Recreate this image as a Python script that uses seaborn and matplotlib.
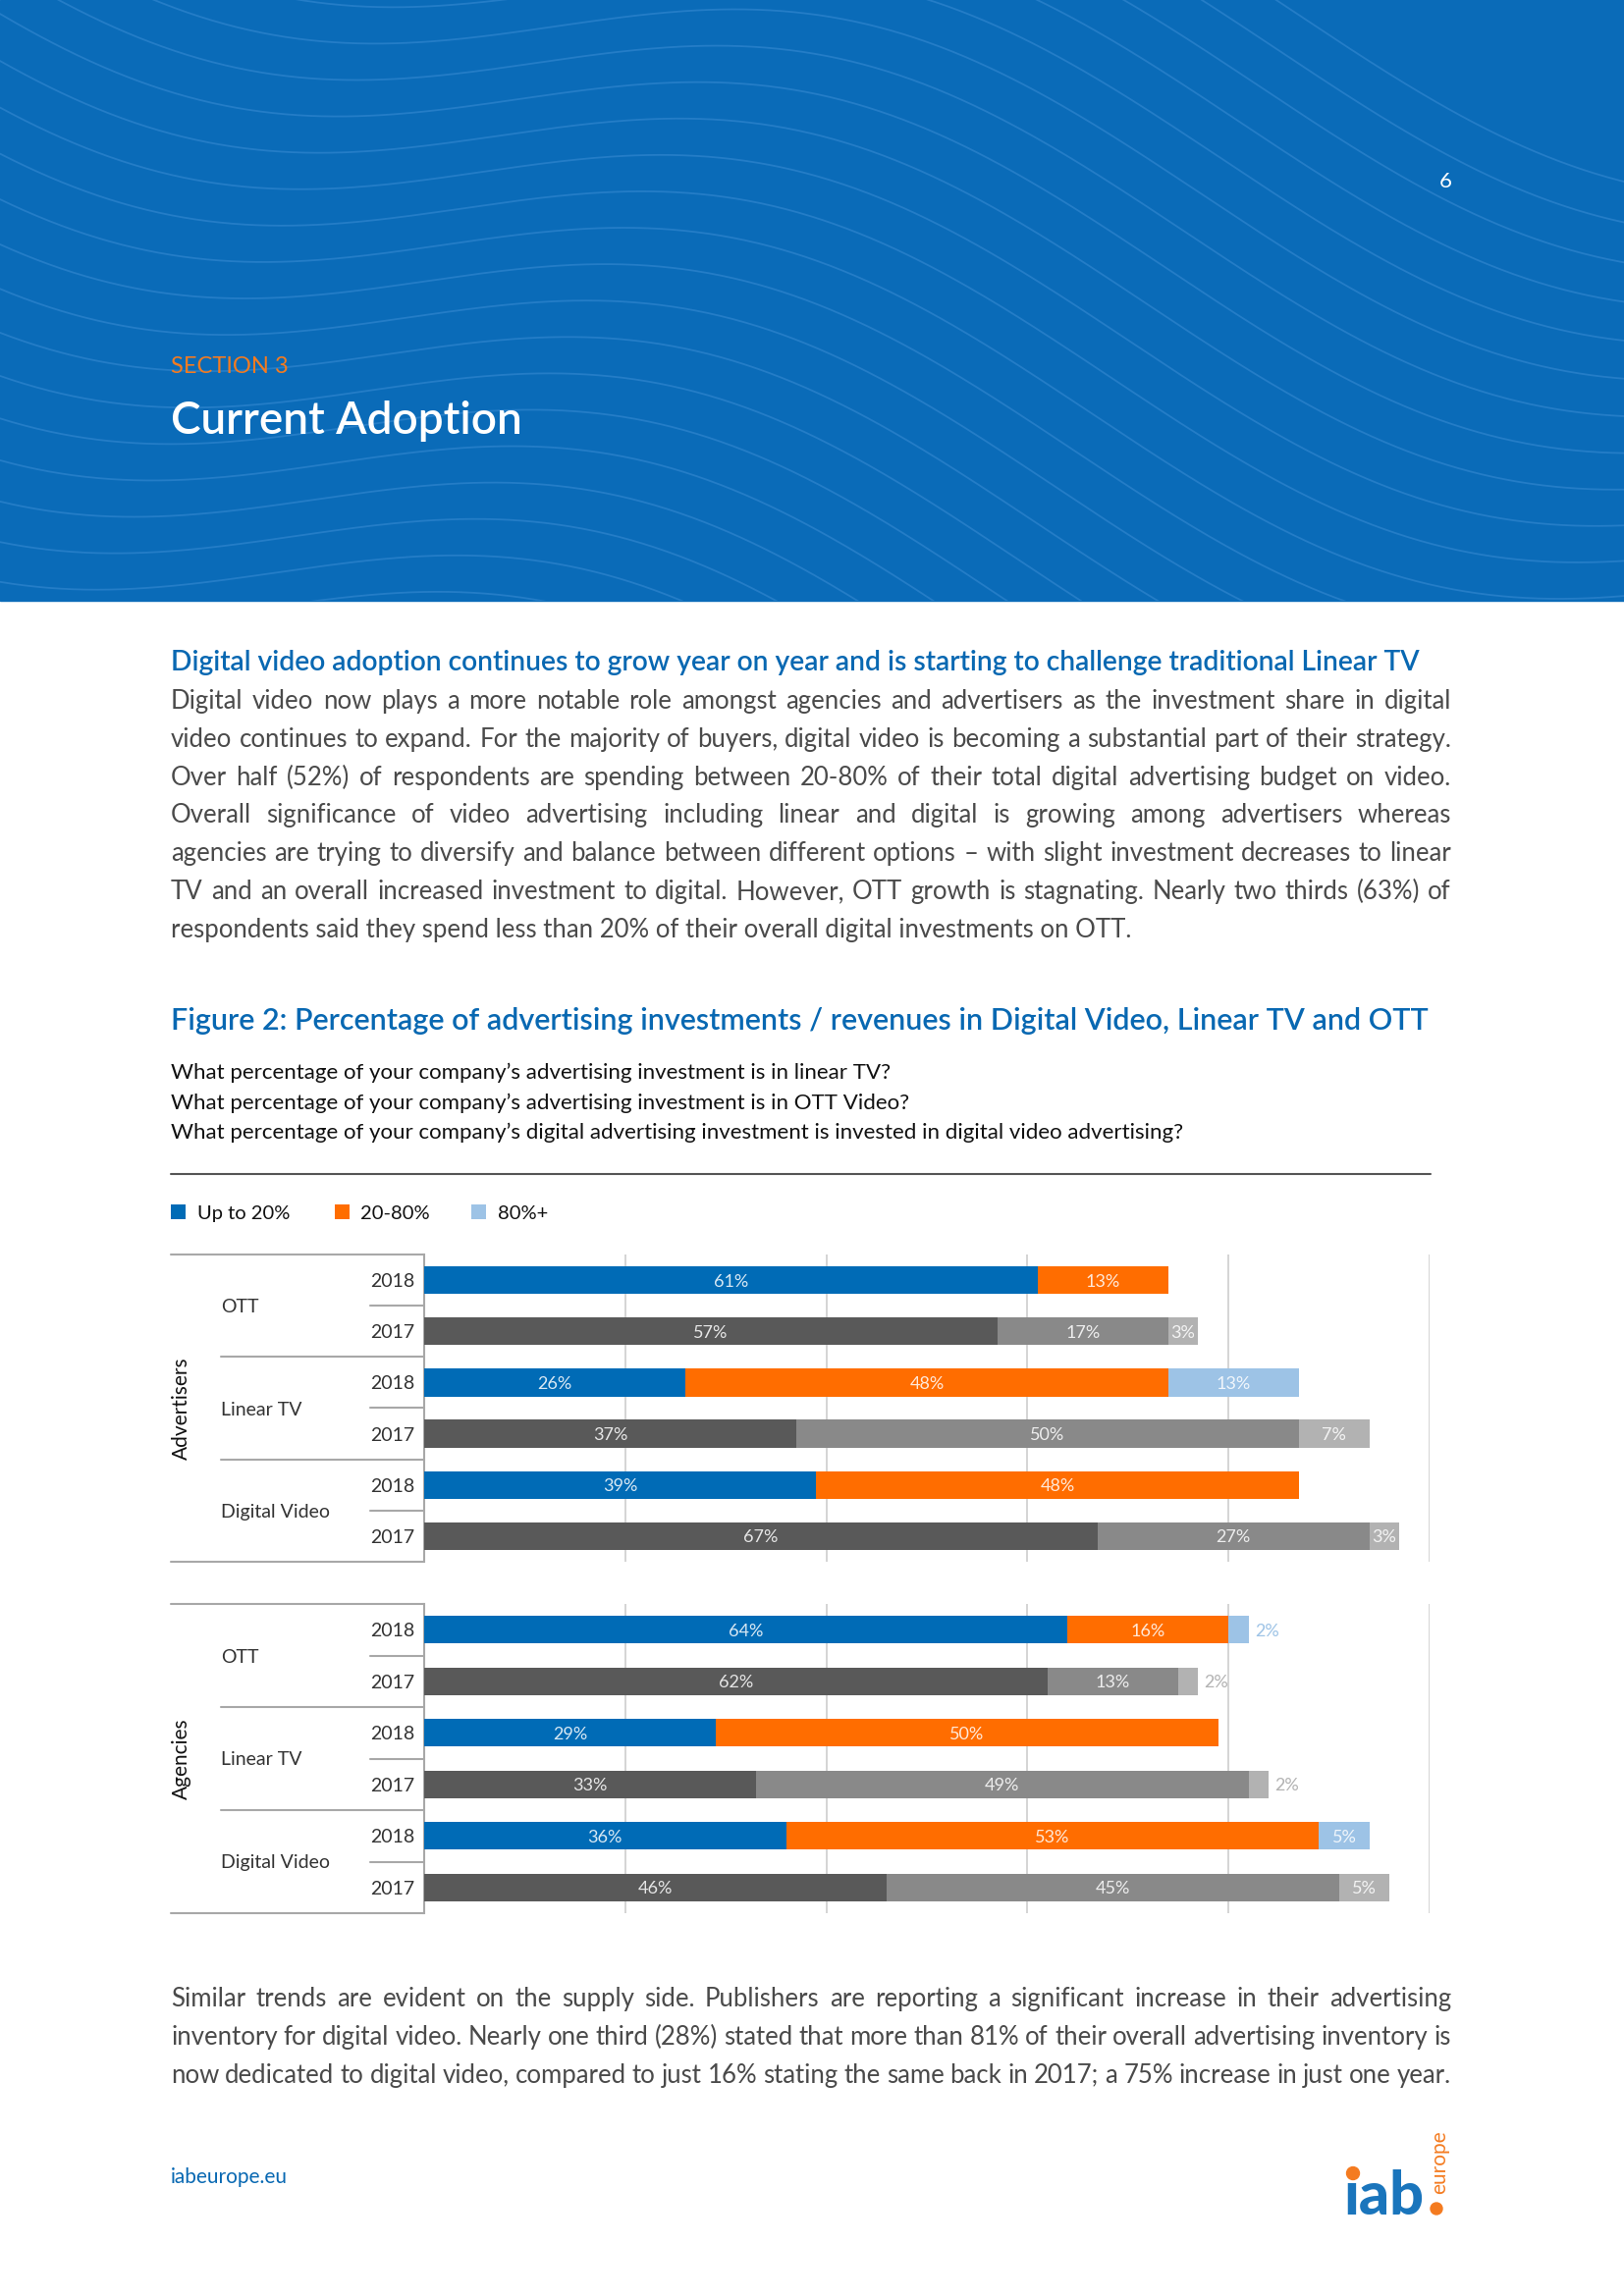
import numpy as np
import pandas as pd
import seaborn as sns
import matplotlib.pyplot as plt
from matplotlib.patches import Rectangle, Circle
from matplotlib import transforms

# chart data (share of respondents, %), rows: OTT 2018, OTT 2017, Linear TV 2018, ...
groups = ["Advertisers", "Agencies"]
media = ["OTT", "Linear TV", "Digital Video"]
years = ["2018", "2017"]
legend_labels = ["Up to 20%", "20-80%", "80%+"]

adv_up_to_20 = [61, 57, 26, 37, 39, 67]
adv_20_80 = [13, 17, 48, 50, 48, 27]
adv_80_plus = [0, 3, 13, 7, 0, 3]

agc_up_to_20 = [64, 62, 29, 33, 36, 46]
agc_20_80 = [16, 13, 50, 49, 53, 45]
agc_80_plus = [2, 2, 0, 2, 5, 5]

W, H = 1654, 2339
header_blue = "#0A6BB8"
text_blue = "#0868B2"
orange = "#F47B20"
body_grey = "#4A4A4A"
seg_colors = {
    "2018": ["#006BB6", "#FF6D00", "#9DC3E6"],
    "2017": ["#595959", "#898989", "#B2B2B2"],
}

sns.set_theme(style="white")
plt.rcParams["font.family"] = ["Lato", "DejaVu Sans"]

fig = plt.figure(figsize=(W / 100, H / 100), dpi=100)
page = fig.add_axes([0, 0, 1, 1])
page.set_xlim(0, W)
page.set_ylim(H, 0)
page.axis("off")
renderer = fig.canvas.get_renderer()

# header band with faint wave texture
band = Rectangle((0, 0), W, 612, color=header_blue, zorder=0)
page.add_patch(band)
xs = np.linspace(0, W, 400)
for i in range(30):
    ys = -330 + i * 42 + 0.26 * xs + 85 * np.sin(xs / 210 + i * 0.09)
    ln, = page.plot(xs, ys, color="#3F8FD6", lw=1.3, alpha=0.5, zorder=1)
    ln.set_clip_path(band)

page.text(1472, 183, "6", color="white", fontsize=16, ha="center",
          va="center_baseline")
page.text(174, 372, "SECTION 3", color=orange, fontsize=17, va="center_baseline")
page.text(174, 425, "Current Adoption", color="white", fontsize=33,
          fontweight="semibold", va="center_baseline")


def justified(lines, x0, x1, y0, step, justify_last=False, **kw):
    for k, line in enumerate(lines):
        y = y0 + k * step
        if k == len(lines) - 1 and not justify_last:
            page.text(x0, y, line, va="center_baseline", **kw)
            continue
        words = line.split()
        items = [page.text(0, y, w, va="center_baseline", **kw) for w in words]
        widths = [t.get_window_extent(renderer).width for t in items]
        gap = (x1 - x0 - sum(widths)) / (len(words) - 1)
        x = x0
        for t, w in zip(items, widths):
            t.set_x(x)
            x += w + gap


page.text(174, 673, "Digital video adoption continues to grow year on year and is "
          "starting to challenge traditional Linear TV", color=text_blue,
          fontsize=20.3, fontweight="semibold", va="center_baseline")

body_lines = [
    "Digital video now plays a more notable role amongst agencies and advertisers as the investment share in digital",
    "video continues to expand. For the majority of buyers, digital video is becoming a substantial part of their strategy.",
    "Over half (52%) of respondents are spending between 20-80% of their total digital advertising budget on video.",
    "Overall significance of video advertising including linear and digital is growing among advertisers whereas",
    "agencies are trying to diversify and balance between different options \u2013 with slight investment decreases to linear",
    "TV and an overall increased investment to digital. However, OTT growth is stagnating. Nearly two thirds (63%) of",
    "respondents said they spend less than 20% of their overall digital investments on OTT.",
]
justified(body_lines, 174, 1478, 712, 38.8, color=body_grey, fontsize=18.5)

page.text(174, 1037, "Figure 2: Percentage of advertising investments / revenues in "
          "Digital Video, Linear TV and OTT", color=text_blue, fontsize=22,
          fontweight="semibold", va="center_baseline")
questions = [
    "What percentage of your company\u2019s advertising investment is in linear TV?",
    "What percentage of your company\u2019s advertising investment is in OTT Video?",
    "What percentage of your company\u2019s digital advertising investment is invested in digital video advertising?",
]
for k, q in enumerate(questions):
    page.text(174, 1091 + k * 30.5, q, color="#111111", fontsize=16,
              va="center_baseline")
page.plot([174, 1457], [1196, 1196], color="#555555", lw=1.5)

# legend
for x_sq, x_txt, col, lab in zip([174, 341, 480], [201, 367, 507],
                                 seg_colors["2018"], legend_labels):
    page.add_patch(Rectangle((x_sq, 1227), 15, 15, color=col, lw=0))
    page.text(x_txt, 1235, lab, color="#111111", fontsize=14.5,
              va="center_baseline")


def draw_group(y_top, y_bot, name, up, mid, top):
    ax = fig.add_axes([432 / W, 1 - y_bot / H, (1456 - 432) / W, (y_bot - y_top) / H])
    ax.set_facecolor("none")
    rows = [f"{m} {y}" for m in media for y in years]
    df = pd.DataFrame({"row": rows, "year": years * 3,
                       "up": up, "mid": mid, "top": top})
    df["c2"] = df["up"] + df["mid"]
    df["c3"] = df["c2"] + df["top"]
    for col, k in [("c3", 2), ("c2", 1), ("up", 0)]:
        pal = {y: seg_colors[y][k] for y in years}
        sns.barplot(data=df, x=col, y="row", hue="year", palette=pal,
                    dodge=False, width=0.54, saturation=1, errorbar=None,
                    legend=False, linewidth=0, orient="h", ax=ax, zorder=3)
    ax.set_xlim(0, 100)
    ax.set_ylim(5.5, -0.5)
    ax.set_xticks([20, 40, 60, 80, 100])
    ax.set_yticks([])
    ax.tick_params(axis="x", length=0, labelbottom=False)
    ax.xaxis.grid(True, color="#C9C9C9", lw=1.1)
    ax.set_axisbelow(True)
    ax.set_xlabel("")
    ax.set_ylabel("")
    for s in ["top", "right", "bottom"]:
        ax.spines[s].set_visible(False)
    ax.spines["left"].set_color("#A8A8A8")
    ax.spines["left"].set_linewidth(1.5)

    # segment labels
    for i, r in df.iterrows():
        starts = [0, r["up"], r["c2"]]
        vals = [r["up"], r["mid"], r["top"]]
        for k, (s, v) in enumerate(zip(starts, vals)):
            if v <= 0:
                continue
            if v <= 2:
                ax.text(s + v + 0.6, i, f"{v}%", color=seg_colors[r["year"]][k],
                        fontsize=13, ha="left", va="center_baseline", zorder=5)
            else:
                ax.text(s + v / 2, i, f"{v}%", color="white", alpha=0.85,
                        fontsize=13, ha="center", va="center_baseline", zorder=5)

    # left-hand table
    tr = transforms.blended_transform_factory(page.transData, ax.transData)
    line_kw = dict(color="#A8A8A8", lw=1.5, transform=tr, clip_on=False)
    ax.plot([174, 432], [-0.5, -0.5], **line_kw)
    ax.plot([174, 432], [5.5, 5.5], **line_kw)
    for yy in [1.5, 3.5]:
        ax.plot([225, 432], [yy, yy], **line_kw)
    for yy in [0.5, 2.5, 4.5]:
        ax.plot([377, 432], [yy, yy], **line_kw)
    for j, m in enumerate(media):
        ax.text(225, 2 * j + 0.5, m, transform=tr, color="#333333",
                fontsize=14, va="center_baseline")
    for i in range(6):
        ax.text(422, i, years[i % 2], transform=tr, color="#333333",
                fontsize=14, ha="right", va="center_baseline")
    ax.text(185, 2.5, name, transform=tr, color="#111111", fontsize=15,
            rotation=90, ha="center", va="center")
    return ax


draw_group(1278, 1591, groups[0], adv_up_to_20, adv_20_80, adv_80_plus)
draw_group(1634, 1949, groups[1], agc_up_to_20, agc_20_80, agc_80_plus)

closing_lines = [
    "Similar trends are evident on the supply side. Publishers are reporting a significant increase in their advertising",
    "inventory for digital video. Nearly one third (28%) stated that more than 81% of their overall advertising inventory is",
    "now dedicated to digital video, compared to just 16% stating the same back in 2017; a 75% increase in just one year.",
]
justified(closing_lines, 174, 1478, 2034, 38.8, justify_last=True,
          color=body_grey, fontsize=18.5)

# footer
page.text(174, 2216, "iabeurope.eu", color=text_blue, fontsize=15,
          va="center_baseline")
page.text(1368, 2256, "\u0131ab", color="#1A75BC", fontsize=44,
          fontweight="black", va="baseline")
page.add_patch(Circle((1378, 2214), 6.5, color=orange))
page.add_patch(Circle((1463, 2250), 6, color=orange))
page.text(1466, 2203, "europe", color=orange, fontsize=15,
          rotation=90, ha="center", va="center")

fig.savefig("out.png", dpi=100)
